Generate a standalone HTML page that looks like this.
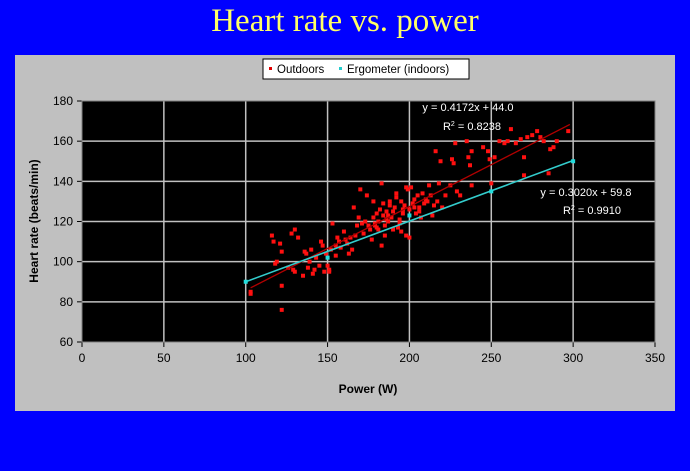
<!DOCTYPE html>
<html><head><meta charset="utf-8"><style>
html,body{margin:0;padding:0;background:#0000ff;width:690px;height:471px;overflow:hidden}
svg{display:block}
</style></head><body>
<svg width="690" height="471" xmlns="http://www.w3.org/2000/svg" font-family="Liberation Sans, sans-serif">
<rect x="0" y="0" width="690" height="471" fill="#0000ff"/>
<text x="345" y="31" text-anchor="middle" font-family="Liberation Serif, serif" font-size="33" fill="#ffff66">Heart rate vs. power</text>
<rect x="15" y="55" width="660" height="356" fill="#c0c0c0"/>
<g>
<rect x="263" y="59" width="206" height="20" fill="#fff" stroke="#000" stroke-width="1"/>
<rect x="269" y="67" width="3" height="3" fill="#e00000"/>
<text x="277" y="73" font-size="11.5">Outdoors</text>
<rect x="339" y="67" width="3" height="3" fill="#22cccc"/>
<text x="347" y="73" font-size="11.5">Ergometer (indoors)</text>
</g>
<rect x="82" y="101" width="573" height="241" fill="#000"/>
<g id="grid"></g>
<g id="axes"></g>
<g id="marks"></g>
<text x="368" y="393" text-anchor="middle" font-size="12" font-weight="bold">Power (W)</text>
<text transform="translate(38,221) rotate(-90)" text-anchor="middle" font-size="12" font-weight="bold">Heart rate (beats/min)</text>
<text x="468" y="111" text-anchor="middle" font-size="11" fill="#fff">y = 0.4172x + 44.0</text>
<text x="472" y="130" text-anchor="middle" font-size="11" fill="#fff">R<tspan dy="-4" font-size="7">2</tspan><tspan dy="4"> = 0.8238</tspan></text>
<text x="586" y="196" text-anchor="middle" font-size="11" fill="#fff">y = 0.3020x + 59.8</text>
<text x="592" y="214" text-anchor="middle" font-size="11" fill="#fff">R<tspan dy="-4" font-size="7">2</tspan><tspan dy="4"> = 0.9910</tspan></text>
</svg>
<script>
const xTicks=[0,50,100,150,200,250,300,350];
const yTicks=[60,80,100,120,140,160,180];
const outdoorsX=[103,103,116,117,118,119,121,122,122,122,126,128,129,130,130,132,135,136,137,138,139,140,141,142,143,145,146,147,148,149,150,151,151,152,153,155,155,156,157,158,160,161,162,163,164,165,166,167,168,169,170,171,172,173,174,175,176,177,178,178,179,180,180,181,182,183,183,184,185,185,186,187,188,188,189,190,191,192,193,194,195,195,196,197,198,198,199,200,200,201,202,203,204,205,206,207,208,209,210,212,213,214,215,216,217,218,219,220,222,225,226,227,228,229,231,235,236,237,238,238,245,248,249,250,252,255,258,260,262,265,268,270,270,272,275,278,280,282,285,286,288,290,297,184,186,190,192,196,179,181,187,194,203,206,211];
const outdoorsY=[84,85,113,110,99,100,109,105,88,76,97,114,96,116,95,112,93,105,104,97,100,106,94,96,102,98,110,108,95,104,98,96,95,106,119,108,103,112,110,107,115,111,109,104,112,106,127,113,118,122,136,119,114,120,133,118,116,111,122,130,118,124,117,120,126,139,108,129,118,113,125,120,130,128,122,116,127,134,117,121,130,115,124,128,113,137,136,112,126,137,129,131,124,133,127,122,134,129,131,138,133,123,128,155,130,139,150,127,133,138,151,149,159,135,133,160,152,148,155,138,157,155,151,139,152,160,159,160,166,159,161,152,143,162,163,165,162,160,144,156,157,160,165,123,121,125,132,126,119,116,123,119,127,125,130];
const ergoX=[100,150,200,250,300];
const ergoY=[90,102,123,135,150];
const outdoorsFit=[0.4172,44.0,103,298];
const ergoFit=[0.3020,59.8,100,300];
const NS='http://www.w3.org/2000/svg';
const L=82,R=655,T=101,B=342;
const sx=v=>L+(v-0)/(350-0)*(R-L);
const sy=v=>B-(v-60)/(180-60)*(B-T);
function mk(tag,attrs,parent){const e=document.createElementNS(NS,tag);for(const k in attrs)e.setAttribute(k,attrs[k]);document.getElementById(parent).appendChild(e);return e;}
xTicks.forEach(t=>{
 if(t>0&&t<350){const g=mk('line',{x1:sx(t),x2:sx(t),y1:T,y2:B,stroke:'#c0c0c0','stroke-width':1.5},'grid');
 
 }
 const tk=mk('line',{x1:sx(t),x2:sx(t),y1:B,y2:B+5,stroke:'#000'},'axes');
 
 
 const tx=mk('text',{x:sx(t),y:B+20,'text-anchor':'middle','font-size':12},'axes');
 tx.textContent=t;
 
 
});
yTicks.forEach(t=>{
 if(t>60&&t<180){const g=mk('line',{x1:L,x2:R,y1:sy(t),y2:sy(t),stroke:'#c0c0c0','stroke-width':1.5},'grid');
 
 }
 const tk=mk('line',{x1:L-5,x2:L,y1:sy(t),y2:sy(t),stroke:'#000'},'axes');
 
 
 const tx=mk('text',{x:L-9,y:sy(t)+4,'text-anchor':'end','font-size':12},'axes');
 tx.textContent=t;
 
 
});
const ax=mk('path',{d:`M${L},${T}V${B}H${R}`,fill:'none',stroke:'#000'},'axes');


const brd=mk('rect',{x:L,y:T,width:R-L,height:B-T,fill:'none',stroke:'#808080'},'axes');


outdoorsX.forEach((x,i)=>{
 const p=mk('rect',{x:sx(x)-2,y:sy(outdoorsY[i])-2,width:4,height:4,fill:'#ff1010'},'marks');
 
 
});
const f1=mk('line',{x1:sx(outdoorsFit[2]),y1:sy(outdoorsFit[0]*outdoorsFit[2]+outdoorsFit[1]),x2:sx(outdoorsFit[3]),y2:sy(outdoorsFit[0]*outdoorsFit[3]+outdoorsFit[1]),stroke:'#b00000','stroke-width':1.3},'marks');


const f2=mk('line',{x1:sx(ergoFit[2]),y1:sy(ergoFit[0]*ergoFit[2]+ergoFit[1]),x2:sx(ergoFit[3]),y2:sy(ergoFit[0]*ergoFit[3]+ergoFit[1]),stroke:'#33cccc','stroke-width':1.6},'marks');


ergoX.forEach((x,i)=>{
 const p=mk('rect',{x:sx(x)-2,y:sy(ergoY[i])-2,width:4,height:4,fill:'#22dddd'},'marks');
 
 
});
</script>
</body></html>
